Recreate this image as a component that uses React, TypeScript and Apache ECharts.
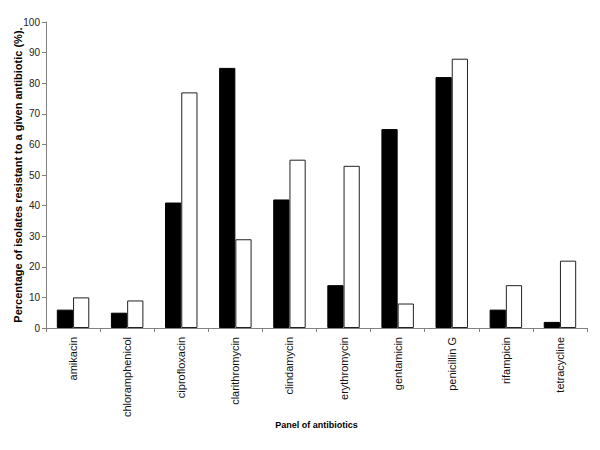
import React, { useEffect, useRef } from "react";
import * as echarts from "echarts";

const categories = [
  "amikacin",
  "chloramphenicol",
  "ciprofloxacin",
  "clarithromycin",
  "clindamycin",
  "erythromycin",
  "gentamicin",
  "penicillin G",
  "rifampicin",
  "tetracycline",
];
const blackSeries = [6, 5, 41, 85, 42, 14, 65, 82, 6, 2];
const whiteSeries = [10, 9, 77, 29, 55, 53, 8, 88, 14, 22];

const yTitle = "Percentage of isolates resistant to a given antibiotic (%).";
const xTitle = "Panel of antibiotics";

export default function App() {
  const ref = useRef<HTMLDivElement>(null);
  useEffect(() => {
    if (!ref.current) return;
    const chart = echarts.init(ref.current, undefined, { renderer: "svg" });
    const font = "'Liberation Sans', Arial, sans-serif";
    chart.setOption({
      animation: false,
      backgroundColor: "#ffffff",
      textStyle: { fontFamily: font },
      grid: {
        left: 46,
        right: 13,
        top: 22,
        bottom: 122,
        containLabel: false,
        outerBoundsMode: "none",
      },
      xAxis: {
        type: "category",
        data: categories,
        name: xTitle,
        nameLocation: "middle",
        nameGap: 92,
        nameMoveOverlap: false,
        nameTextStyle: { fontSize: 9, fontWeight: "bold", color: "#000", fontFamily: font },
        axisLine: { lineStyle: { color: "#808080", width: 1 } },
        axisTick: { show: true, alignWithLabel: false, length: 4, lineStyle: { color: "#808080" } },
        axisLabel: { rotate: 90, fontSize: 11, color: "#111", margin: 9, fontFamily: font },
      },
      yAxis: {
        type: "value",
        min: 0,
        max: 100,
        interval: 10,
        name: yTitle,
        nameLocation: "middle",
        nameGap: 23,
        nameMoveOverlap: false,
        nameTextStyle: { fontSize: 11, fontWeight: "bold", color: "#000", fontFamily: font },
        splitLine: { show: false },
        axisLine: { show: true, lineStyle: { color: "#808080", width: 1 } },
        axisTick: { show: true, length: 4, lineStyle: { color: "#808080" } },
        axisLabel: { fontSize: 10, color: "#222", margin: 6, fontFamily: font },
      },
      series: [
        {
          type: "bar",
          data: blackSeries,
          barGap: "0%",
          barCategoryGap: "40%",
          itemStyle: { color: "#000000", borderColor: "#000000", borderWidth: 1 },
        },
        {
          type: "bar",
          data: whiteSeries,
          barGap: "0%",
          barCategoryGap: "40%",
          itemStyle: { color: "#ffffff", borderColor: "#222222", borderWidth: 1 },
        },
      ],
    });
    return () => chart.dispose();
  }, []);
  return (
    <div
      ref={ref}
      style={{ position: "absolute", left: 0, top: 0, width: 600, height: 450 }}
    />
  );
}
